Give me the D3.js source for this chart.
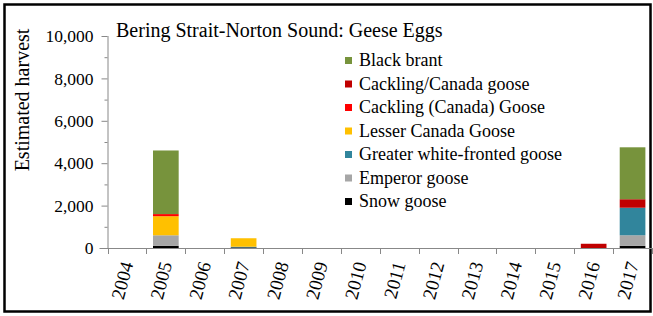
<!DOCTYPE html>
<html>
<head>
<meta charset="utf-8">
<script src="https://cdn.jsdelivr.net/npm/d3@7"></script>
<style>
    body { margin: 0; background: #fff; }
</style>
</head>
<body>
<svg id="chart" width="653" height="316"></svg>
<script>
// categories
const years = ['2004', '2005', '2006', '2007', '2008', '2009', '2010',
    '2011', '2012', '2013', '2014', '2015', '2016', '2017'];

// series values, one per year (bottom of stack first)
const snowGoose       = [0, 100, 0, 30, 0, 0, 0, 0, 0, 0, 0, 0, 0, 100];
const emperorGoose    = [0, 500, 0, 0, 0, 0, 0, 0, 0, 0, 0, 0, 0, 500];
const greaterWhiteFr  = [0, 0, 0, 30, 0, 0, 0, 0, 0, 0, 0, 0, 0, 1300];
const lesserCanada    = [0, 900, 0, 400, 0, 0, 0, 0, 0, 0, 0, 0, 0, 0];
const cacklingParen   = [0, 100, 0, 0, 0, 0, 0, 0, 0, 0, 0, 0, 0, 0];
const cacklingSlash   = [0, 0, 0, 0, 0, 0, 0, 0, 0, 0, 0, 0, 200, 400];
const blackBrant      = [0, 3000, 0, 0, 0, 0, 0, 0, 0, 0, 0, 0, 0, 2450];

const seriesNames = ['Snow goose', 'Emperor goose', 'Greater white-fronted goose',
    'Lesser Canada Goose', 'Cackling (Canada) Goose', 'Cackling/Canada goose', 'Black brant'];
const seriesValues = [snowGoose, emperorGoose, greaterWhiteFr, lesserCanada,
    cacklingParen, cacklingSlash, blackBrant];
const seriesColors = ['#000000', '#a6a6a6', '#31859c', '#ffc000', '#ff0000', '#c00000', '#77933c'];

const yTicks = [0, 2000, 4000, 6000, 8000, 10000];
const yMinorTicks = [1000, 3000, 5000, 7000, 9000];

const FONT = "'Liberation Serif', 'Times New Roman', 'DejaVu Serif', serif";

const svg = d3.select('#chart');

// outer frame
svg.append('rect')
    .attr('x', 4.5).attr('y', 4.5)
    .attr('width', 646).attr('height', 307)
    .attr('fill', 'none')
    .attr('stroke', '#000')
    .attr('stroke-width', 2.5);

const plotLeft = 107.5, plotRight = 652, plotTop = 36, plotBottom = 248;

const x = d3.scaleBand()
    .domain(years)
    .range([plotLeft, plotRight])
    .paddingInner(0.34)
    .paddingOuter(0.17);

const y = d3.scaleLinear()
    .domain([0, 10000])
    .range([plotBottom, plotTop]);

// stacked data
const table = years.map((yr, i) => {
    const row = { year: yr };
    seriesNames.forEach((name, s) => { row[name] = seriesValues[s][i]; });
    return row;
});
const stacked = d3.stack().keys(seriesNames)(table);

svg.append('g')
    .selectAll('g')
    .data(stacked)
    .join('g')
        .attr('fill', (d, i) => seriesColors[i])
    .selectAll('rect')
    .data(d => d.filter(p => p[1] - p[0] > 0))
    .join('rect')
        .attr('x', d => x(d.data.year))
        .attr('width', x.bandwidth())
        .attr('y', d => y(d[1]))
        .attr('height', d => y(d[0]) - y(d[1]));

// y axis
const yAxis = svg.append('g')
    .attr('transform', `translate(${plotLeft}, 0)`)
    .call(d3.axisLeft(y)
        .tickValues(yTicks)
        .tickSize(6)
        .tickPadding(8)
        .tickFormat(d3.format(',')));
yAxis.attr('font-family', null).attr('font-size', null);
yAxis.selectAll('.tick text')
    .style('font-family', FONT)
    .style('font-size', '17.5px')
    .attr('fill', '#000');
yAxis.append('g')
    .selectAll('line')
    .data(yMinorTicks)
    .join('line')
        .attr('x1', -3).attr('x2', 0)
        .attr('y1', d => y(d) + 0.5).attr('y2', d => y(d) + 0.5)
        .attr('stroke', '#888');
yAxis.selectAll('.domain, .tick line').attr('stroke', '#888');
yAxis.select('.domain').attr('d', `M0.5,${plotTop}V${plotBottom}`);

// x axis
const xAxis = svg.append('g')
    .attr('transform', `translate(0, ${plotBottom})`)
    .call(d3.axisBottom(x).tickSize(0).tickPadding(0));
xAxis.attr('font-family', null).attr('font-size', null);
xAxis.select('.domain').attr('stroke', '#888').attr('d', `M${plotLeft - 8},0.5H${plotRight}`);
xAxis.selectAll('.tick text')
    .style('font-family', FONT)
    .style('font-size', '19px')
    .attr('fill', '#000')
    .attr('text-anchor', 'end')
    .attr('y', 0)
    .attr('dy', '0.35em')
    .attr('transform', 'translate(0, 14) rotate(-75)');
xAxis.append('g')
    .selectAll('line')
    .data(d3.range(years.length + 1))
    .join('line')
        .attr('x1', i => Math.round(plotLeft + i * x.step()) + 0.5)
        .attr('x2', i => Math.round(plotLeft + i * x.step()) + 0.5)
        .attr('y1', 0).attr('y2', 6)
        .attr('stroke', '#888');

// y axis title
svg.append('text')
    .attr('transform', 'translate(29, 100) rotate(-90)')
    .attr('text-anchor', 'middle')
    .style('font-family', FONT)
    .style('font-size', '20px')
    .text('Estimated harvest');

// chart title
svg.append('text')
    .attr('x', 116).attr('y', 37)
    .style('font-family', FONT)
    .style('font-size', '20px')
    .text('Bering Strait-Norton Sound: Geese Eggs');

// legend, top to bottom
const legend = svg.append('g')
    .attr('transform', 'translate(345, 57)')
    .selectAll('g')
    .data(seriesNames.map((n, i) => ({ name: n, color: seriesColors[i] })).reverse())
    .join('g')
        .attr('transform', (d, i) => `translate(0, ${i * 23.5})`);
legend.append('rect')
    .attr('width', 7).attr('height', 7)
    .attr('fill', d => d.color);
legend.append('text')
    .attr('x', 14).attr('y', 9)
    .style('font-family', FONT)
    .style('font-size', '18px')
    .text(d => d.name);
</script>
</body>
</html>
